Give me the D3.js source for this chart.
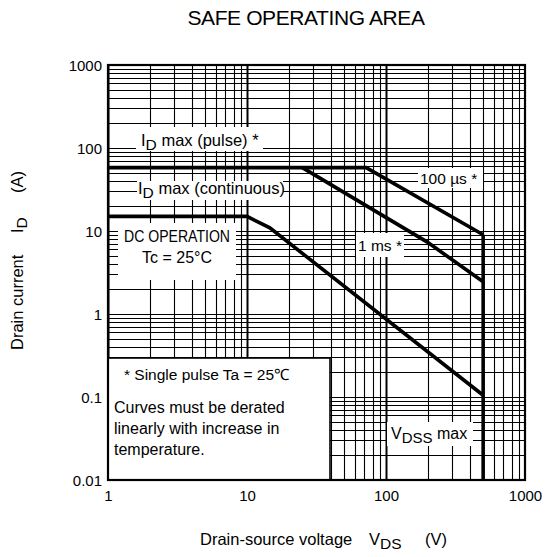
<!DOCTYPE html>
<html><head><meta charset="utf-8">
<script src="https://cdn.jsdelivr.net/npm/d3@7"></script>
<style>
body{margin:0;background:#fff;}
text{font-family:"Liberation Sans",Arial,sans-serif;fill:#000;}
</style></head>
<body><svg id="c" width="547" height="557"></svg>
<script>
// ---- data ----
const xTicks = [1, 10, 100, 1000];
const xTickLabels = ["1", "10", "100", "1000"];
const yTicks = [0.01, 0.1, 1, 10, 100, 1000];
const yTickLabels = ["0.01", "0.1", "1", "10", "100", "1000"];
// boundary curves [V, A]
const pulse100us = [[1, 58], [72, 58], [500, 9]];
const pulse1ms = [[25, 58], [197, 7.4], [500, 2.45]];
const dcOperation = [[1, 15], [10, 15], [14.6, 10.9], [500, 0.105]];
const vdssMax = [[500, 9], [500, 0.01]];

const svg = d3.select("#c");
const L = 108, R = 525, T = 65, B = 480;
const x = d3.scaleLog().domain([1, 1000]).range([L, R]);
const y = d3.scaleLog().domain([0.01, 1000]).range([B, T]);

// grid
const xGrid = [], yGrid = [];
for (let e = 0; e < 3; e++) for (let k = 1; k <= 9; k++) xGrid.push({v: k * Math.pow(10, e), major: k === 1});
for (let e = -2; e < 3; e++) for (let k = 1; k <= 9; k++) yGrid.push({v: k * Math.pow(10, e), major: k === 1});
const g = svg.append("g");
g.selectAll(".vx").data(xGrid).join("line")
  .attr("x1", d => Math.round(x(d.v)) + 0.5).attr("x2", d => Math.round(x(d.v)) + 0.5)
  .attr("y1", T).attr("y2", B).attr("stroke", "#000").attr("stroke-width", d => d.major ? 2 : 1.1);
g.selectAll(".hy").data(yGrid).join("line")
  .attr("y1", d => Math.round(y(d.v)) + 0.5).attr("y2", d => Math.round(y(d.v)) + 0.5)
  .attr("x1", L).attr("x2", R).attr("stroke", "#000").attr("stroke-width", 1.1);

// white label boxes covering grid
const boxes = [
  [136, 127, 127, 24], [137, 181, 146, 19], [418, 168, 65, 20],
  [356, 233, 48, 24], [118, 223, 118, 57], [387, 422, 86, 24]
];
svg.append("g").selectAll("rect").data(boxes).join("rect")
  .attr("x", d => d[0]).attr("y", d => d[1]).attr("width", d => d[2]).attr("height", d => d[3])
  .attr("fill", "#fff");
// note box
svg.append("rect").attr("x", L).attr("y", 358).attr("width", 222).attr("height", B - 358)
  .attr("fill", "#fff").attr("stroke", "#000").attr("stroke-width", 1.6);

// curves
const line = d3.line().x(d => x(d[0])).y(d => y(d[1]));
[pulse100us, pulse1ms, dcOperation, vdssMax].forEach(c => {
  svg.append("path").attr("d", line(c)).attr("fill", "none").attr("stroke", "#000")
    .attr("stroke-width", 3.6).attr("stroke-linejoin", "miter");
});

// frame
svg.append("rect").attr("x", L).attr("y", T).attr("width", R - L).attr("height", B - T)
  .attr("fill", "none").attr("stroke", "#000").attr("stroke-width", 2.2);

// axes tick labels
const xa = d3.axisBottom(x).tickValues(xTicks).tickFormat((d, i) => xTickLabels[i]).tickSize(0).tickPadding(0);
const xg = svg.append("g").attr("transform", `translate(0,${B})`).call(xa);
xg.select(".domain").remove();
xg.selectAll("text").attr("y", 21).attr("dy", 0).style("font-size", "15px").style("font-family", "Liberation Sans, Arial");
const ya = d3.axisLeft(y).tickValues(yTicks).tickFormat((d, i) => yTickLabels[i]).tickSize(0).tickPadding(0);
const yg = svg.append("g").attr("transform", `translate(${L - 6},0)`).call(ya);
yg.select(".domain").remove();
yg.selectAll("text").attr("dy", "0.34em").style("font-size", "15px").style("font-family", "Liberation Sans, Arial");

// text helper
function txt(xp, yp, size, parts, anchor) {
  const t = svg.append("text").attr("x", xp).attr("y", yp).attr("font-size", size)
    .attr("text-anchor", anchor || "start");
  parts.forEach(p => {
    const s = t.append("tspan").text(p[0]);
    if (p[1]) s.attr("dy", p[1]);
    if (p[2]) s.attr("font-size", p[2]);
  });
  return t;
}
txt(306, 25, 21, [["SAFE OPERATING AREA"]], "middle").attr("letter-spacing", -0.4);
txt(141, 146, 16.5, [["I"], ["D", 4, 15.5], [" max (pulse) *", -4]]);
txt(138, 194, 16.5, [["I"], ["D", 4, 15.5], [" max (continuous)", -4]]);
txt(420, 184, 15.5, [["100 \u00b5s *"]]);
txt(358, 251, 15.5, [["1 ms *"]]);
txt(124, 242, 16, [["DC OPERATION"]]).attr("textLength", 106).attr("lengthAdjust", "spacingAndGlyphs");
txt(177, 263, 16, [["Tc = 25\u00b0C"]], "middle");
txt(391, 439, 16, [["V"], ["DSS", 4, 15], [" max", -4]]);
txt(124, 380, 15.5, [["* Single pulse Ta = 25\u2103"]]);
txt(114, 413, 16, [["Curves must be derated"]]);
txt(114, 434, 16, [["linearly with increase in"]]);
txt(114, 455, 16, [["temperature."]]);
// axis titles
txt(200, 545, 16.5, [["Drain-source voltage"]]);
txt(369, 545, 16.5, [["V"], ["DS", 4, 15.5]]);
txt(425, 545, 16.5, [["(V)"]]);
function ytxt(yp, parts) {
  const t = svg.append("text").attr("transform", `translate(23,${yp}) rotate(-90)`).attr("font-size", 16.5);
  parts.forEach(p => {
    const s = t.append("tspan").text(p[0]);
    if (p[1]) s.attr("dy", p[1]);
    if (p[2]) s.attr("font-size", p[2]);
  });
}
ytxt(350, [["Drain current"]]);
ytxt(233, [["I"], ["D", 4, 15.5]]);
ytxt(193, [["(A)"]]);
</script></body></html>
